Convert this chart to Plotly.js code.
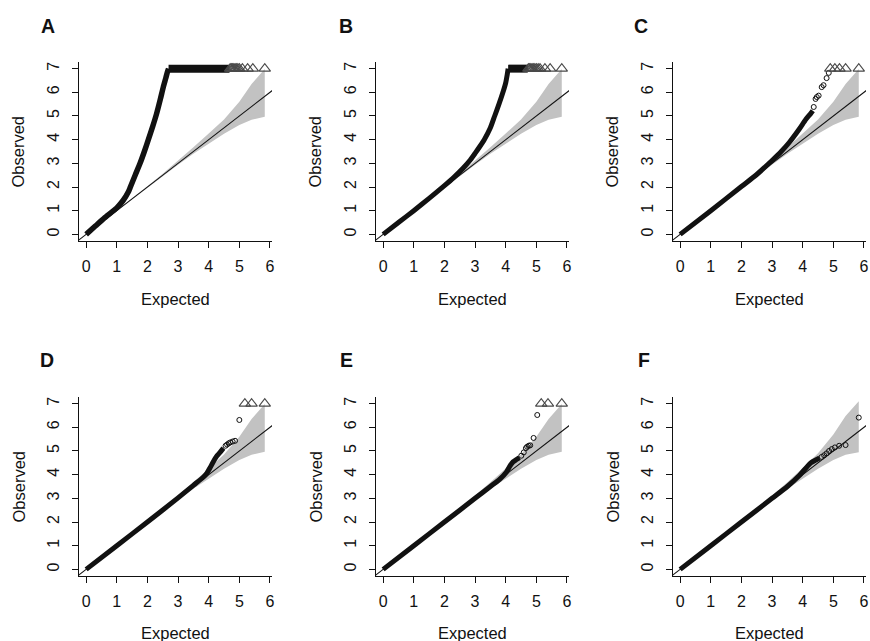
<!DOCTYPE html>
<html>
<head>
<meta charset="utf-8">
<script src="https://cdn.plot.ly/plotly-3.0.1.min.js"></script>
<style>html,body{margin:0;padding:0;background:#fff;}#plot{width:870px;height:641px;}</style>
</head>
<body>
<div id="plot"></div>
<script>
// ---------- data ----------
const panelLabels = ['A', 'B', 'C', 'D', 'E', 'F'];
const xTicks = [0, 1, 2, 3, 4, 5, 6];
const yTicks = [0, 1, 2, 3, 4, 5, 6, 7];
const xTitle = 'Expected';
const yTitle = 'Observed';

// 95% band around the null expectation
const bandX      = [0, 1, 2, 2.5, 3, 3.5, 4, 4.5, 5, 5.4, 5.83];
const bandUpper  = [0.01, 1.01, 2.03, 2.56, 3.1, 3.68, 4.26, 4.85, 5.6, 6.35, 6.98];
const bandLower  = [0, 0.99, 1.97, 2.46, 2.94, 3.4, 3.83, 4.25, 4.62, 4.84, 4.97];
const bandUpperF = [0.01, 1.01, 2.03, 2.56, 3.1, 3.68, 4.28, 4.9, 5.7, 6.48, 7.1];
const bandLowerF = [0, 0.99, 1.97, 2.46, 2.94, 3.4, 3.83, 4.25, 4.62, 4.84, 4.95];

// Panel A
const aCurveX = [0, 0.3, 0.6, 1.0, 1.2, 1.38, 1.45, 1.6, 1.76, 1.9, 2.03, 2.17, 2.3, 2.42, 2.52, 2.6, 2.65, 2.69];
const aCurveY = [0, 0.35, 0.7, 1.12, 1.42, 1.8, 2.02, 2.5, 3.0, 3.5, 4.0, 4.55, 5.1, 5.7, 6.23, 6.6, 6.85, 7.0];
const aTailX = [];
const aTailY = [];
const aCapX = [2.69, 4.68];
const aTriX = [4.7, 4.74, 4.78, 4.82, 4.86, 4.9, 4.95, 5.0, 5.1, 5.27, 5.44, 5.83];
// Panel B
const bCurveX = [0, 0.5, 1, 1.5, 2, 2.3, 2.6, 2.85, 3.0, 3.15, 3.3, 3.5, 3.64, 3.78, 3.91, 4.0, 4.05, 4.08];
const bCurveY = [0, 0.5, 1.0, 1.52, 2.06, 2.4, 2.78, 3.15, 3.42, 3.7, 4.0, 4.5, 5.0, 5.5, 6.0, 6.4, 6.75, 7.0];
const bTailX = [];
const bTailY = [];
const bCapX = [4.08, 4.72];
const bTriX = [4.74, 4.78, 4.82, 4.86, 4.9, 4.95, 5.0, 5.06, 5.12, 5.28, 5.45, 5.83];
// Panel C
const cCurveX = [0, 1, 2, 2.5, 3.0, 3.3, 3.56, 3.89, 4.1, 4.26, 4.33];
const cCurveY = [0, 1.0, 2.02, 2.53, 3.12, 3.5, 3.88, 4.45, 4.85, 5.1, 5.22];
const cTailX = [4.36, 4.42, 4.46, 4.52, 4.62, 4.68, 4.78, 4.85];
const cTailY = [5.38, 5.72, 5.8, 5.86, 6.22, 6.3, 6.6, 6.82];
const cCapX = [];
const cTriX = [4.9, 5.05, 5.2, 5.4, 5.83];
// Panel D
const dCurveX = [0, 1, 2, 3, 3.5, 3.83, 3.94, 4.04, 4.15, 4.26, 4.37, 4.48];
const dCurveY = [0, 1.0, 2.0, 3.02, 3.55, 3.9, 4.06, 4.28, 4.55, 4.78, 4.94, 5.12];
const dTailX = [4.55, 4.6, 4.65, 4.7, 4.78, 4.86, 5.0];
const dTailY = [5.22, 5.27, 5.32, 5.36, 5.4, 5.43, 6.31];
const dCapX = [];
const dTriX = [5.18, 5.4, 5.83];
// Panel E
const eCurveX = [0, 1, 2, 3, 3.5, 3.8, 4.02, 4.13, 4.24, 4.35, 4.45];
const eCurveY = [0, 1.0, 2.0, 3.0, 3.5, 3.8, 4.1, 4.35, 4.54, 4.64, 4.72];
const eTailX = [4.51, 4.59, 4.66, 4.7, 4.75, 4.8, 4.91, 5.03];
const eTailY = [4.8, 4.94, 5.12, 5.18, 5.22, 5.24, 5.55, 6.52];
const eCapX = [];
const eTriX = [5.16, 5.38, 5.83];
// Panel F
const fCurveX = [0, 1, 2, 3, 3.5, 3.89, 4.16, 4.27, 4.43, 4.55];
const fCurveY = [0, 1.0, 2.0, 3.0, 3.5, 3.96, 4.36, 4.5, 4.62, 4.7];
const fTailX = [4.62, 4.7, 4.78, 4.86, 4.95, 5.05, 5.19, 5.4, 5.83];
const fTailY = [4.75, 4.82, 4.9, 5.0, 5.08, 5.15, 5.22, 5.25, 6.41];
const fCapX = [];
const fTriX = [];

const capValue = 7;

// ---------- build ----------
const panels = [
  {cx: aCurveX, cy: aCurveY, tx: aTailX, ty: aTailY, cap: aCapX, tri: aTriX, bu: bandUpper, bl: bandLower, lw: 5.5},
  {cx: bCurveX, cy: bCurveY, tx: bTailX, ty: bTailY, cap: bCapX, tri: bTriX, bu: bandUpper, bl: bandLower, lw: 5},
  {cx: cCurveX, cy: cCurveY, tx: cTailX, ty: cTailY, cap: cCapX, tri: cTriX, bu: bandUpper, bl: bandLower, lw: 5},
  {cx: dCurveX, cy: dCurveY, tx: dTailX, ty: dTailY, cap: dCapX, tri: dTriX, bu: bandUpper, bl: bandLower, lw: 5},
  {cx: eCurveX, cy: eCurveY, tx: eTailX, ty: eTailY, cap: eCapX, tri: eTriX, bu: bandUpper, bl: bandLower, lw: 5},
  {cx: fCurveX, cy: fCurveY, tx: fTailX, ty: fTailY, cap: fCapX, tri: fTriX, bu: bandUpperF, bl: bandLowerF, lw: 5}
];

const W = 870, H = 641;
const colPx = [[79, 272], [376, 569], [673, 866]];
const rowPx = [[62, 241], [397, 576]];
const xRange = [-0.233, 6.066];
const yRange = [-0.28, 7.28];
const font = 'Liberation Sans, Arial, Helvetica, sans-serif';
const ink = '#111111';

const traces = [];
const layout = {
  width: W, height: H,
  margin: {l: 0, r: 0, t: 0, b: 0},
  paper_bgcolor: '#ffffff', plot_bgcolor: '#ffffff',
  showlegend: false,
  font: {family: font, color: ink, size: 15},
  annotations: []
};

panels.forEach((p, i) => {
  const col = i % 3, row = Math.floor(i / 3);
  const xa = 'x' + (i === 0 ? '' : i + 1);
  const ya = 'y' + (i === 0 ? '' : i + 1);
  const xaKey = 'xaxis' + (i === 0 ? '' : i + 1);
  const yaKey = 'yaxis' + (i === 0 ? '' : i + 1);
  const common = {
    showline: true, linecolor: ink, linewidth: 1, mirror: false,
    showgrid: false, zeroline: false,
    ticks: 'outside', ticklen: 6, tickwidth: 1, tickcolor: ink,
    tickfont: {family: font, size: 16, color: ink},
    fixedrange: true
  };
  layout[xaKey] = Object.assign({}, common, {
    domain: [colPx[col][0] / W, colPx[col][1] / W],
    range: xRange, tickmode: 'array', tickvals: xTicks, ticktext: xTicks.map(String),
    anchor: ya, ticklabelstandoff: 5
  });
  layout[yaKey] = Object.assign({}, common, {
    domain: [1 - rowPx[row][1] / H, 1 - rowPx[row][0] / H],
    range: yRange, tickmode: 'array', tickvals: yTicks, ticktext: yTicks.map(String),
    anchor: xa, tickangle: -90, ticklabelstandoff: 7
  });

  // confidence band
  traces.push({
    x: bandX.concat(bandX.slice().reverse()),
    y: p.bu.concat(p.bl.slice().reverse()),
    xaxis: xa, yaxis: ya, type: 'scatter', mode: 'lines',
    fill: 'toself', fillcolor: '#c2c2c2', line: {width: 0, color: 'rgba(0,0,0,0)'},
    hoverinfo: 'skip'
  });
  // y = x reference line
  traces.push({
    x: [xRange[0] - 1, xRange[1] + 1], y: [xRange[0] - 1, xRange[1] + 1],
    xaxis: xa, yaxis: ya, type: 'scatter', mode: 'lines',
    line: {color: ink, width: 1.1}, hoverinfo: 'skip'
  });
  // dense observed points
  traces.push({
    x: p.cx, y: p.cy, xaxis: xa, yaxis: ya, type: 'scatter', mode: 'lines',
    line: {color: ink, width: p.lw, shape: 'spline', smoothing: 0.6}, hoverinfo: 'skip'
  });
  // dense capped run at the ceiling
  if (p.cap.length) {
    traces.push({
      x: p.cap, y: p.cap.map(() => capValue), xaxis: xa, yaxis: ya, type: 'scatter', mode: 'lines',
      line: {color: ink, width: 8}, hoverinfo: 'skip'
    });
  }
  // sparse tail points
  if (p.tx.length) {
    traces.push({
      x: p.tx, y: p.ty, xaxis: xa, yaxis: ya, type: 'scatter', mode: 'markers',
      marker: {symbol: 'circle-open', size: 5, color: ink, line: {width: 1, color: ink}},
      hoverinfo: 'skip'
    });
  }
  // capped points (triangles)
  if (p.tri.length) {
    traces.push({
      x: p.tri, y: p.tri.map(() => capValue), xaxis: xa, yaxis: ya, type: 'scatter', mode: 'markers',
      marker: {symbol: 'triangle-up-open', size: 10, color: '#4a4a4a', line: {width: 1.1, color: '#4a4a4a'}},
      cliponaxis: false, hoverinfo: 'skip'
    });
  }

  // panel letter
  const letterPos = [[48, 26], [346, 26], [641, 26], [47, 360], [346, 360], [644, 360]][i];
  layout.annotations.push({
    xref: 'paper', yref: 'paper', x: letterPos[0] / W, y: 1 - letterPos[1] / H,
    xanchor: 'center', yanchor: 'middle', showarrow: false,
    text: '<b>' + panelLabels[i] + '</b>', font: {family: font, size: 19.5, color: ink}
  });
  // axis titles
  const cx = (colPx[col][0] + colPx[col][1]) / 2;
  const xtY = row === 0 ? 299 : 633;
  layout.annotations.push({
    xref: 'paper', yref: 'paper', x: cx / W, y: 1 - xtY / H,
    xanchor: 'center', yanchor: 'middle', showarrow: false,
    text: xTitle, font: {family: font, size: 16.5, color: ink}
  });
  const ytY = (rowPx[row][0] + rowPx[row][1]) / 2;
  layout.annotations.push({
    xref: 'paper', yref: 'paper', x: (colPx[col][0] - 61) / W, y: 1 - ytY / H,
    xanchor: 'center', yanchor: 'middle', showarrow: false, textangle: -90,
    text: yTitle, font: {family: font, size: 16.5, color: ink}
  });
});

Plotly.newPlot('plot', traces, layout, {displayModeBar: false, staticPlot: true});
</script>
</body>
</html>
